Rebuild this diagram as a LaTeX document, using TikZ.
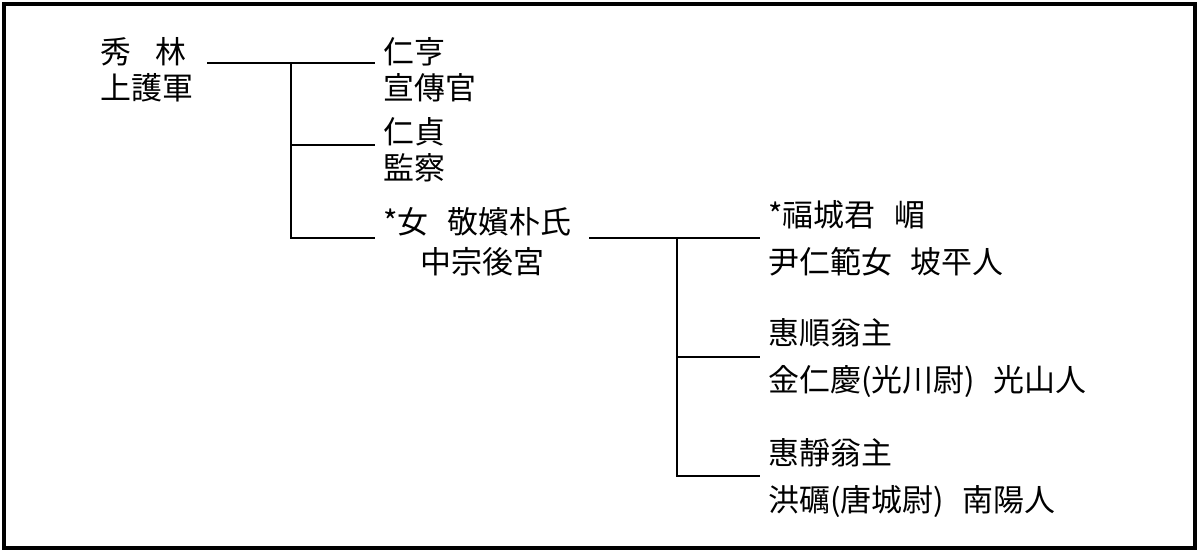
\documentclass[tikz,border=0pt]{standalone}
\usepackage{fontspec}
\usetikzlibrary{positioning, calc}
\newfontfamily\hanja{Noto Sans CJK KR}
\newcommand{\sep}{\hspace{0.6em}}

\begin{document}
\begin{tikzpicture}[
    x=0.025cm, y=-0.025cm,
    member/.style={
        anchor=west,
        align=left,
        inner xsep=0.2cm,
        inner ysep=0pt,
        font=\hanja\fontsize{22}{25.5}\selectfont
    },
    member wide/.style={
        member,
        font=\hanja\fontsize{22}{33.3}\selectfont
    },
    link/.style={
        draw=black,
        line width=1.6pt
    },
    frame/.style={
        draw=black,
        line width=2.2pt
    }
]

\useasboundingbox (0,0) rectangle (1201,552);
\draw[frame] (4,4) rectangle (1195,548);

% 1. Surim and his children (Column 1)
\node[member] (surim) at (92,70) {秀\hspace{0.8em}林\\上護軍};
\node[member] (inhyeong) at (375,70) {仁亨\\宣傳官};
\node[member] (injeong) at (375,150) {仁貞\\監察};
\node[member, font=\hanja\fontsize{22}{28.4}\selectfont] (daughter) at (375,242)
    {*女\sep 敬嬪朴氏\\\hspace*{1.2em}中宗後宮};

\coordinate (forkA) at (291,63);
\coordinate (forkA2) at (291,145);
\coordinate (forkA3) at (291,238);

\draw[link] ([xshift=0.15cm]surim.east |- forkA) -- (forkA) -- (inhyeong.west |- forkA);
\draw[link] (forkA) -- (forkA3) -- (daughter.west |- forkA3);
\draw[link] (forkA2) -- (injeong.west |- forkA2);

% 2. Children of Gyeongbin Park (Column 2)
\node[member wide] (bokseong) at (760,238) {*福城君\sep 嵋\\尹仁範女\sep 坡平人};
\node[member wide] (hyesun) at (760,358) {惠順翁主\\金仁慶(光川尉)\sep 光山人};
\node[member wide] (hyejeong) at (760,478) {惠靜翁主\\洪礪(唐城尉)\sep 南陽人};

\coordinate (forkB) at (677,238);
\coordinate (forkB2) at (677,357);
\coordinate (forkB3) at (677,476);

\draw[link] ([xshift=0.25cm]daughter.east |- forkB) -- (forkB) -- (bokseong.west |- forkB);
\draw[link] (forkB) -- (forkB3) -- (hyejeong.west |- forkB3);
\draw[link] (forkB2) -- (hyesun.west |- forkB2);

\end{tikzpicture}
\end{document}
